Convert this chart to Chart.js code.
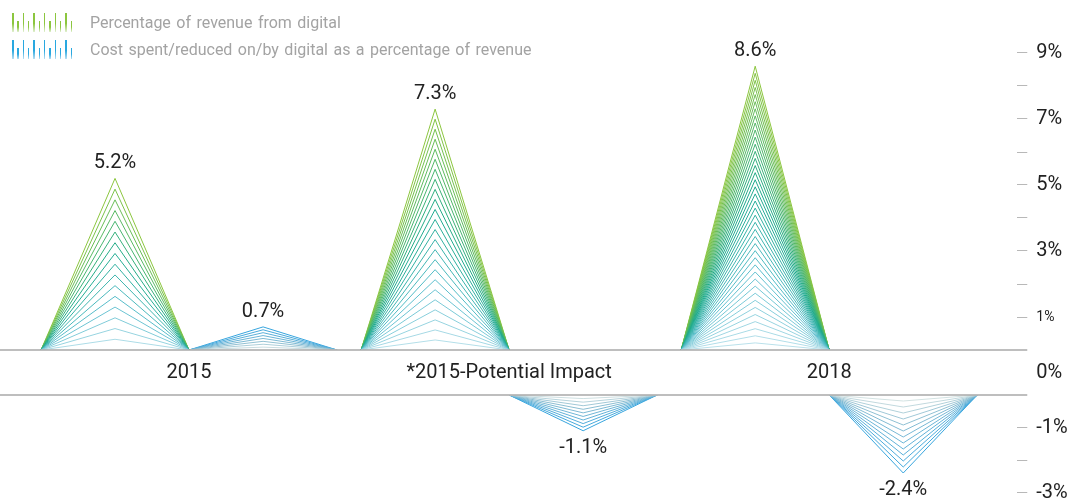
<!DOCTYPE html>
<html>
<head>
<meta charset="utf-8">
<script src="https://cdn.jsdelivr.net/npm/chart.js@4.4.1/dist/chart.umd.min.js"></script>
<style>
  html, body { margin: 0; padding: 0; background: #fff; }
  #wrap { position: relative; width: 1078px; height: 502px; font-family: Roboto, sans-serif; }
  #legend { position: absolute; left: 12px; top: 9px; z-index: 2; }
  .row { display: flex; align-items: center; height: 27px; }
  .icon { position: relative; width: 66px; height: 19px; }
  .icon span { position: absolute; bottom: 0; width: 1.5px; }
  .txt { margin-left: 12px; font-size: 16px; word-spacing: 1.5px; color: #a3a3a3; }
  canvas { position: absolute; left: 0; top: 0; }
</style>
</head>
<body>
<div id="wrap">
  <div id="legend"></div>
  <canvas id="chart" width="1078" height="502"></canvas>
</div>
<script>
const categories = ['2015', '*2015-Potential Impact', '2018'];
const revenueDigital = [5.2, 7.3, 8.6];
const costDigital = [0.7, -1.1, -2.4];
const posTicks = [9, 8, 7, 6, 5, 4, 3, 2, 1];
const negTicks = [-1, -2, -3];
const labeledTicks = [9, 7, 5, 3, 1, -1, -3];
const seriesNames = ['Percentage of revenue from digital', 'Cost spent/reduced on/by digital as a percentage of revenue'];

// look of the nested triangles
const greenSteps = [16, 24, 40];
const blueSteps = [8, 10, 13];
const TRI = 0.4625; // width of one triangle in category units
const greenStops = [[0, [195, 228, 238]], [0.3, [90, 190, 205]], [0.6, [30, 170, 140]], [1, [140, 198, 63]]];
const blueStops = [[0, [228, 234, 230]], [0.4, [140, 190, 210]], [1, [55, 165, 222]]];

function ramp(stops, t) {
  for (let i = 1; i < stops.length; i++) {
    if (t <= stops[i][0]) {
      const a = stops[i - 1], b = stops[i];
      const f = (t - a[0]) / (b[0] - a[0]);
      const c = a[1].map((v, j) => Math.round(v + (b[1][j] - v) * f));
      return `rgb(${c[0]},${c[1]},${c[2]})`;
    }
  }
  const c = stops[stops.length - 1][1];
  return `rgb(${c[0]},${c[1]},${c[2]})`;
}

function nested(left, value, steps, axis, stops) {
  let sets = [];
  for (let k = 1; k <= steps; k++) {
    const t = k / steps;
    sets.push({
      data: [{ x: left, y: 0 }, { x: left + TRI / 2, y: value * t }, { x: left + TRI, y: 0 }],
      yAxisID: axis,
      borderColor: ramp(stops, t),
      borderWidth: 1,
      pointRadius: 0,
      tension: 0,
      fill: false,
    });
  }
  return sets;
}

let datasets = [];
for (let i = 0; i < categories.length; i++) {
  datasets = datasets.concat(nested(i - TRI, revenueDigital[i], greenSteps[i], 'yPos', greenStops));
  let v = costDigital[i];
  datasets = datasets.concat(nested(i, v, blueSteps[i], v >= 0 ? 'yPos' : 'yNeg', blueStops));
}

// legend
const legend = document.getElementById('legend');
[['#8cc63f', '#e2f0d2'], ['#29a8e0', '#b8def2']].forEach((s, n) => {
  let row = document.createElement('div');
  row.className = 'row';
  let icon = document.createElement('div');
  icon.className = 'icon';
  for (let i = 0; i < 12; i++) {
    let sp = document.createElement('span');
    sp.style.left = (i * 5.33) + 'px';
    sp.style.height = (i % 2 === 0 ? 19 : 11) + 'px';
    sp.style.background = `linear-gradient(to bottom, ${s[0]} 55%, ${s[1]} 100%)`;
    icon.appendChild(sp);
  }
  let txt = document.createElement('div');
  txt.className = 'txt';
  txt.textContent = seriesNames[n];
  row.appendChild(icon);
  row.appendChild(txt);
  legend.appendChild(row);
});

const overlay = {
  id: 'overlay',
  afterDatasetsDraw(chart) {
    const { ctx, chartArea } = chart;
    const { x, yPos, yGap, yNeg } = chart.scales;
    ctx.save();
    ctx.strokeStyle = '#a8a8a8';
    ctx.lineWidth = 1.5;
    [yPos.getPixelForValue(0), yNeg.getPixelForValue(0)].forEach(y => {
      ctx.beginPath();
      ctx.moveTo(0, y);
      ctx.lineTo(chartArea.right + 10, y);
      ctx.stroke();
    });
    ctx.fillStyle = '#222';
    ctx.font = '20px Roboto';
    ctx.textAlign = 'center';
    ctx.textBaseline = 'middle';
    categories.forEach((c, i) => {
      ctx.fillText(c, x.getPixelForValue(i), yGap.getPixelForValue(0.5));
      ctx.fillText(revenueDigital[i] + '%', x.getPixelForValue(i - TRI / 2), yPos.getPixelForValue(revenueDigital[i]) - 15);
      const v = costDigital[i];
      const bx = x.getPixelForValue(i + TRI / 2);
      if (v >= 0) ctx.fillText(v + '%', bx, yPos.getPixelForValue(v) - 15);
      else ctx.fillText(v + '%', bx, yNeg.getPixelForValue(v) + 17);
    });
    ctx.restore();
  }
};

function noPad(s) { s.paddingTop = 0; s.paddingBottom = 0; }

const axisBase = {
  type: 'linear',
  position: 'right',
  stack: 'y',
  border: { display: false },
  afterFit: noPad,
  grid: {
    drawOnChartArea: false,
    drawTicks: true,
    tickLength: 10,
    tickWidth: 1,
    tickColor: '#b8b8b8',
  },
  ticks: {
    autoSkip: false,
    padding: 9,
    color: '#222',
    font: ctx => ({ family: 'Roboto', size: ctx.tick && ctx.tick.value === 1 ? 14 : 20 }),
    callback: v => labeledTicks.includes(v) ? v + '%' : '',
  },
};

new Chart(document.getElementById('chart'), {
  type: 'line',
  data: { datasets: datasets },
  options: {
    responsive: false,
    animation: false,
    layout: { padding: { right: 5 } },
    plugins: { legend: { display: false }, tooltip: { enabled: false } },
    scales: {
      x: { type: 'linear', display: false, min: -0.5906, max: 2.5875 },
      yPos: Object.assign({}, axisBase, {
        stackWeight: 350, min: 0, max: 350 / 33,
        afterBuildTicks: s => { s.ticks = posTicks.map(v => ({ value: v })); },
      }),
      yGap: Object.assign({}, axisBase, {
        stackWeight: 45, min: 0, max: 1,
        afterBuildTicks: s => { s.ticks = [{ value: 0.5 }]; },
        grid: Object.assign({}, axisBase.grid, { tickColor: 'rgba(0,0,0,0)' }),
        ticks: Object.assign({}, axisBase.ticks, { font: { family: 'Roboto', size: 20 }, callback: () => '0%' }),
      }),
      yNeg: Object.assign({}, axisBase, {
        stackWeight: 107, min: -107 / 32.5, max: 0,
        afterBuildTicks: s => { s.ticks = negTicks.map(v => ({ value: v })); },
      }),
    },
  },
  plugins: [overlay],
});
</script>
</body>
</html>
